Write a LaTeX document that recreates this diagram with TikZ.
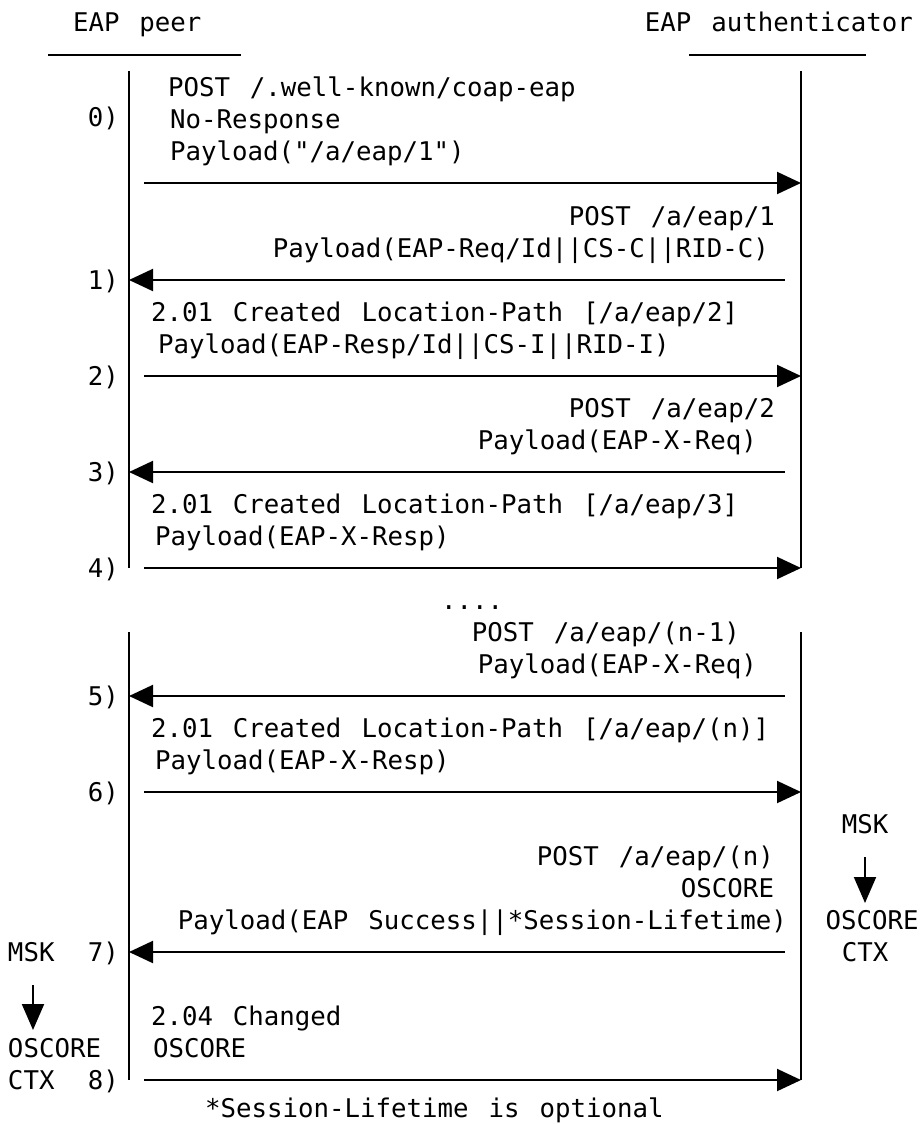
\documentclass[tikz,border=0pt]{standalone}
\usepackage{fontspec}
\newfontfamily\dvmono{DejaVu Sans Mono}[WordSpace=1.29]
\newcommand\msgfont{\dvmono\fontsize{25.75}{30}\selectfont}
\usetikzlibrary{arrows.meta}
\tikzset{
  txt/.style={inner sep=0pt, outer sep=0pt, font=\msgfont},
  L/.style={txt, anchor=base west},
  R/.style={txt, anchor=base east},
  C/.style={txt, anchor=base},
  ln/.style={line width=2pt},
  msg/.style={line width=2pt, -{Triangle[length=24pt,width=22pt]}},
  dnarr/.style={line width=2pt, -{Triangle[length=26pt,width=22pt]}},
}
\begin{document}
\begin{tikzpicture}[x=1pt, y=-1pt]
\useasboundingbox (0,0) rectangle (921,1124);
% headers
\node[L] (hp) at (73,32) {EAP peer};
\node[C] (ha) at (779,32) {EAP authenticator};
\coordinate (hpl) at (48,55); \coordinate (hpr) at (241,55);
\coordinate (hal) at (689,55); \coordinate (har) at (866,55);
\draw[ln] (hpl) -- (hpr);
\draw[ln] (hal) -- (har);
% lifelines
\coordinate (P1t) at (129,71);  \coordinate (P1b) at (129,568);
\coordinate (A1t) at (801,71);  \coordinate (A1b) at (801,568);
\coordinate (P2t) at (129,632); \coordinate (P2b) at (129,1080);
\coordinate (A2t) at (801,632); \coordinate (A2b) at (801,1080);
\draw[ln] (P1t) -- (P1b);
\draw[ln] (A1t) -- (A1b);
\draw[ln] (P2t) -- (P2b);
\draw[ln] (A2t) -- (A2b);
% message endpoints
\foreach \n/\y in {0/183,2/376,4/568,6/792,8/1080}{
  \coordinate (s\n) at (144,\y); \coordinate (e\n) at (801,\y);
}
\foreach \n/\y in {1/280,3/472,5/696,7/952}{
  \coordinate (s\n) at (785,\y); \coordinate (e\n) at (129,\y);
}
\foreach \n in {0,...,8}{ \draw[msg] (s\n) -- (e\n); }
% step labels
\node[R] (l0) at (119,126) {0)};
\node[R] (l1) at (119,289) {1)};
\node[R] (l2) at (119,385) {2)};
\node[R] (l3) at (119,481) {3)};
\node[R] (l4) at (119,577) {4)};
\node[R] (l5) at (119,705) {5)};
\node[R] (l6) at (119,801) {6)};
\node[R] (l7) at (119,961) {7)};
\node[R] (l8) at (119,1089) {8)};
% message texts
\node[L] (m0a) at (168,96) {POST /.well-known/coap-eap};
\node[L] (m0b) at (170,128) {No-Response};
\node[L] (m0c) at (170,160) {Payload("/a/eap/1")};
\node[R] (m1a) at (775,225) {POST /a/eap/1};
\node[R] (m1b) at (769,257) {Payload(EAP-Req/Id||CS-C||RID-C)};
\node[L] (m2a) at (151,321) {2.01 Created Location-Path [/a/eap/2]};
\node[L] (m2b) at (158,353) {Payload(EAP-Resp/Id||CS-I||RID-I)};
\node[R] (m3a) at (775,417) {POST /a/eap/2};
\node[R] (m3b) at (757,449) {Payload(EAP-X-Req)};
\node[L] (m4a) at (151,513) {2.01 Created Location-Path [/a/eap/3]};
\node[L] (m4b) at (155,545) {Payload(EAP-X-Resp)};
\node[C] (dots) at (472,609) {....};
\node[R] (m5a) at (740,641) {POST /a/eap/(n-1)};
\node[R] (m5b) at (757,673) {Payload(EAP-X-Req)};
\node[L] (m6a) at (151,737) {2.01 Created Location-Path [/a/eap/(n)]};
\node[L] (m6b) at (155,769) {Payload(EAP-X-Resp)};
\node[R] (m7a) at (774,865) {POST /a/eap/(n)};
\node[R] (m7b) at (774,897) {OSCORE};
\node[R] (m7c) at (787,929) {Payload(EAP Success||*Session-Lifetime)};
\node[L] (m8a) at (151,1025) {2.04 Changed};
\node[L] (m8b) at (153,1057) {OSCORE};
\node[L] (foot) at (205,1117) {*Session-Lifetime is optional};
% key derivation notes
\node[C] (mskR) at (865,833) {MSK};
\node[C] (oscR) at (872,929) {OSCORE};
\node[C] (ctxR) at (865,961) {CTX};
\coordinate (dR1) at (865,857); \coordinate (dR2) at (865,903);
\draw[dnarr] (dR1) -- (dR2);
\node[L] (mskL) at (8,961) {MSK};
\node[L] (oscL) at (8,1057) {OSCORE};
\node[L] (ctxL) at (8,1089) {CTX};
\coordinate (dL1) at (33,985); \coordinate (dL2) at (33,1030);
\draw[dnarr] (dL1) -- (dL2);
\end{tikzpicture}
\end{document}
